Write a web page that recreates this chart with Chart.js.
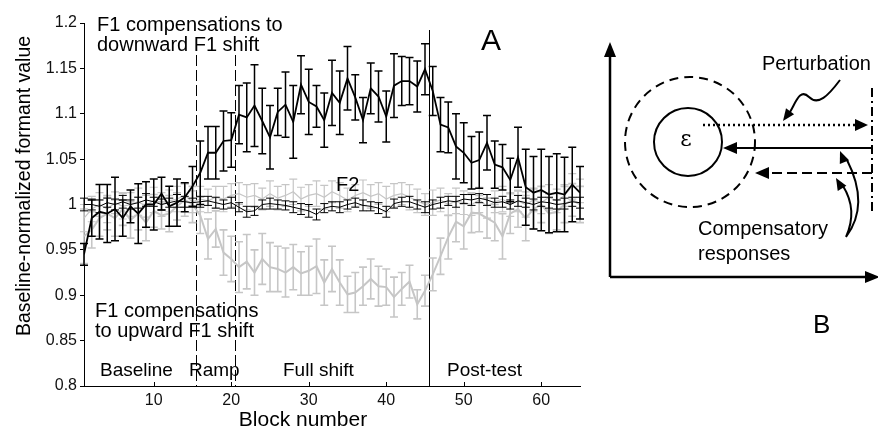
<!DOCTYPE html>
<html>
<head>
<meta charset="utf-8">
<script src="https://cdn.jsdelivr.net/npm/chart.js@4.4.1/dist/chart.umd.min.js"></script>
<style>
  html, body { margin: 0; padding: 0; background: #fff; }
  #wrap { position: relative; width: 878px; height: 432px; }
</style>
</head>
<body>
<div id="wrap"><canvas id="chart" width="878" height="432"></canvas></div>
<script>
// block numbers (x axis)
const blocks = [1, 2, 3, 4, 5, 6, 7, 8, 9, 10, 11, 12, 13, 14, 15, 16, 17, 18, 19, 20,
  21, 22, 23, 24, 25, 26, 27, 28, 29, 30, 31, 32, 33, 34, 35, 36, 37, 38, 39, 40,
  41, 42, 43, 44, 45, 46, 47, 48, 49, 50, 51, 52, 53, 54, 55, 56, 57, 58, 59, 60,
  61, 62, 63, 64, 65];

// F1, downward shift group (black)
const f1Down = [0.945, 0.985, 0.992, 0.990, 0.995, 0.985, 0.998, 0.990, 1.000, 1.000,
  1.012, 0.998, 1.002, 1.008, 1.020, 1.035, 1.057, 1.057, 1.070, 1.071,
  1.099, 1.096, 1.109, 1.092, 1.074, 1.102, 1.110, 1.091, 1.132, 1.113,
  1.108, 1.093, 1.123, 1.112, 1.139, 1.118, 1.093, 1.128, 1.119, 1.097,
  1.131, 1.136, 1.136, 1.130, 1.149, 1.125, 1.088, 1.085, 1.064, 1.057,
  1.046, 1.049, 1.068, 1.044, 1.041, 1.027, 1.052, 1.019, 1.013, 1.016,
  1.011, 1.013, 1.011, 1.022, 1.013];
const f1DownErr = [0.012, 0.020, 0.030, 0.032, 0.035, 0.020, 0.018, 0.033, 0.025, 0.028,
  0.018, 0.022, 0.026, 0.016, 0.022, 0.035, 0.029, 0.029, 0.033, 0.030,
  0.032, 0.038, 0.045, 0.036, 0.035, 0.026, 0.036, 0.040, 0.032, 0.036,
  0.023, 0.030, 0.036, 0.035, 0.035, 0.025, 0.025, 0.028, 0.028, 0.028,
  0.035, 0.027, 0.026, 0.028, 0.028, 0.027, 0.030, 0.028, 0.036, 0.033,
  0.029, 0.031, 0.030, 0.026, 0.025, 0.024, 0.033, 0.042, 0.040, 0.045,
  0.042, 0.043, 0.041, 0.041, 0.029];

// F2, downward shift group (black)
const f2Down = [1.000, 1.000, 0.998, 1.002, 1.000, 1.003, 1.000, 1.002, 1.005, 1.003,
  1.000, 1.002, 1.004, 1.003, 1.002, 1.003, 1.004, 1.002, 1.000, 1.002,
  0.997, 0.992, 0.993, 1.000, 1.001, 1.000, 0.999, 0.997, 0.995, 0.993,
  0.989, 0.996, 0.998, 0.997, 1.000, 1.002, 0.999, 0.998, 0.996, 0.992,
  1.001, 1.003, 1.003, 1.000, 0.997, 1.000, 1.002, 1.004, 1.003, 1.006,
  1.005, 1.007, 1.005, 1.002, 1.003, 1.000, 1.004, 1.002, 1.000, 1.003,
  1.002, 1.000, 1.001, 1.003, 1.002];
const f2DownErr = [0.007, 0.006, 0.007, 0.005, 0.006, 0.007, 0.005, 0.006, 0.007, 0.005,
  0.006, 0.005, 0.007, 0.006, 0.005, 0.006, 0.005, 0.006, 0.005, 0.006,
  0.005, 0.006, 0.005, 0.005, 0.006, 0.005, 0.005, 0.006, 0.006, 0.007,
  0.006, 0.005, 0.005, 0.006, 0.005, 0.005, 0.006, 0.005, 0.006, 0.006,
  0.005, 0.005, 0.006, 0.005, 0.006, 0.005, 0.006, 0.005, 0.006, 0.005,
  0.006, 0.005, 0.006, 0.005, 0.006, 0.005, 0.006, 0.005, 0.006, 0.005,
  0.006, 0.005, 0.006, 0.005, 0.006];

// F1, upward shift group (grey)
const f1Up = [0.965, 0.972, 0.985, 0.990, 0.985, 0.995, 0.983, 0.990, 0.980, 0.993,
  0.988, 0.990, 0.998, 1.005, 1.000, 0.988, 0.962, 0.973, 0.947, 0.940,
  0.931, 0.937, 0.925, 0.940, 0.931, 0.929, 0.925, 0.931, 0.924, 0.927,
  0.932, 0.914, 0.929, 0.914, 0.901, 0.903, 0.910, 0.918, 0.910, 0.909,
  0.898, 0.907, 0.915, 0.890, 0.905, 0.923, 0.943, 0.964, 0.981, 0.976,
  0.991, 0.990, 0.985, 0.980, 0.965, 0.990, 0.995, 0.985, 0.995, 1.000,
  0.990, 0.992, 1.000, 1.005, 1.000];
const f1UpErr = [0.030, 0.020, 0.020, 0.018, 0.020, 0.018, 0.020, 0.018, 0.020, 0.018,
  0.015, 0.020, 0.015, 0.018, 0.020, 0.020, 0.022, 0.020, 0.025, 0.025,
  0.028, 0.030, 0.025, 0.028, 0.027, 0.025, 0.027, 0.025, 0.024, 0.027,
  0.030, 0.025, 0.025, 0.025, 0.020, 0.022, 0.021, 0.022, 0.022, 0.020,
  0.022, 0.018, 0.018, 0.016, 0.017, 0.018, 0.020, 0.024, 0.022, 0.025,
  0.022, 0.020, 0.022, 0.020, 0.025, 0.022, 0.020, 0.025, 0.022, 0.020,
  0.022, 0.020, 0.020, 0.018, 0.020];

// F2, upward shift group (grey)
const f2Up = [0.985, 0.995, 1.000, 0.995, 1.002, 0.998, 1.000, 1.003, 0.998, 1.005,
  1.000, 1.004, 1.006, 1.010, 1.003, 1.006, 1.004, 1.008, 1.006, 1.010,
  1.012, 1.008, 1.010, 1.006, 1.012, 1.007, 1.010, 1.014, 1.006, 1.010,
  1.012, 1.008, 1.014, 1.010, 1.005, 1.010, 1.013, 1.009, 1.012, 1.006,
  1.010, 1.012, 1.008, 1.004, 1.000, 1.002, 1.005, 1.000, 1.004, 1.002,
  1.000, 1.005, 0.998, 1.003, 1.006, 1.000, 1.004, 1.000, 1.005, 1.002,
  1.008, 1.004, 1.010, 1.020, 1.015];
const f2UpErr = [0.015, 0.014, 0.013, 0.015, 0.012, 0.014, 0.013, 0.015, 0.012, 0.014,
  0.013, 0.012, 0.014, 0.013, 0.012, 0.014, 0.013, 0.012, 0.014, 0.013,
  0.012, 0.014, 0.013, 0.012, 0.014, 0.013, 0.012, 0.014, 0.013, 0.012,
  0.014, 0.013, 0.012, 0.014, 0.013, 0.012, 0.014, 0.013, 0.012, 0.014,
  0.013, 0.012, 0.014, 0.013, 0.012, 0.014, 0.013, 0.012, 0.014, 0.013,
  0.012, 0.014, 0.013, 0.012, 0.014, 0.013, 0.012, 0.014, 0.013, 0.012,
  0.014, 0.013, 0.012, 0.014, 0.013];

const xTicks = [10, 20, 30, 40, 50, 60];
const yTicks = [0.8, 0.85, 0.9, 0.95, 1, 1.05, 1.1, 1.15, 1.2];
const phaseLines = [15.5, 20.5, 45.5];
const phaseNames = ['Baseline', 'Ramp', 'Full shift', 'Post-test'];

const BLACK = '#000';
const GREY = 'rgb(198,198,198)';
const FONT = '"Liberation Sans", Arial, Helvetica, sans-serif';

const toPoints = vals => blocks.map((b, i) => ({ x: b, y: vals[i] }));

function series(vals, errs, color, width, errWidth) {
  return {
    data: toPoints(vals),
    errors: errs,
    errWidth: errWidth,
    borderColor: color,
    borderWidth: width,
    pointRadius: 0,
    tension: 0,
    fill: false
  };
}

// error bars drawn right after each line so the stacking follows the datasets
const errorBars = {
  id: 'errorBars',
  afterDatasetDraw(chart, args) {
    const ds = chart.data.datasets[args.index];
    if (!ds.errors) return;
    const { ctx, scales: { x, y } } = chart;
    const cap = 4;
    ctx.save();
    ctx.strokeStyle = ds.borderColor;
    ctx.lineWidth = ds.errWidth;
    ctx.beginPath();
    ds.data.forEach((p, i) => {
      const px = x.getPixelForValue(p.x);
      const top = y.getPixelForValue(p.y + ds.errors[i]);
      const bot = y.getPixelForValue(p.y - ds.errors[i]);
      ctx.moveTo(px, top); ctx.lineTo(px, bot);
      ctx.moveTo(px - cap, top); ctx.lineTo(px + cap, top);
      ctx.moveTo(px - cap, bot); ctx.lineTo(px + cap, bot);
    });
    ctx.stroke();
    ctx.restore();
  }
};

function arrowHead(ctx, tx, ty, ang, len, hw) {
  const c = Math.cos(ang), s = Math.sin(ang);
  const bx = tx - c * len, by = ty - s * len;
  ctx.beginPath();
  ctx.moveTo(tx, ty);
  ctx.lineTo(bx - s * hw, by + c * hw);
  ctx.lineTo(bx + s * hw, by - c * hw);
  ctx.closePath();
  ctx.fill();
}

function drawPanelB(ctx) {
  ctx.save();
  ctx.strokeStyle = '#000';
  ctx.fillStyle = '#000';

  // axes
  ctx.lineWidth = 2.5;
  ctx.beginPath();
  ctx.moveTo(610, 277); ctx.lineTo(610, 55);
  ctx.moveTo(610, 277); ctx.lineTo(868, 277);
  ctx.stroke();
  arrowHead(ctx, 610, 42, -Math.PI / 2, 15, 6);
  arrowHead(ctx, 880, 277, 0, 15, 6);

  // circles
  ctx.lineWidth = 2;
  ctx.setLineDash([9, 6]);
  ctx.beginPath(); ctx.arc(690, 142, 65, 0, Math.PI * 2); ctx.stroke();
  ctx.setLineDash([]);
  ctx.beginPath(); ctx.arc(688, 142, 34, 0, Math.PI * 2); ctx.stroke();
  ctx.font = '22px "DejaVu Serif", serif';
  ctx.textAlign = 'center';
  ctx.textBaseline = 'middle';
  ctx.fillText('\u03B5', 686, 140);

  // perturbation (dotted)
  ctx.lineWidth = 2.5;
  ctx.setLineDash([2, 3]);
  ctx.beginPath(); ctx.moveTo(703, 125); ctx.lineTo(856, 125); ctx.stroke();
  ctx.setLineDash([]);
  arrowHead(ctx, 868, 125, 0, 13, 6);

  // dash-dot boundary
  ctx.lineWidth = 2;
  ctx.setLineDash([9, 4, 2, 4]);
  ctx.beginPath(); ctx.moveTo(872, 88); ctx.lineTo(872, 214); ctx.stroke();

  // full compensation (solid)
  ctx.setLineDash([]);
  ctx.beginPath(); ctx.moveTo(872, 148); ctx.lineTo(736, 148); ctx.stroke();
  arrowHead(ctx, 723, 148, Math.PI, 14, 6);

  // partial compensation (dashed)
  ctx.setLineDash([10, 5]);
  ctx.beginPath(); ctx.moveTo(872, 173); ctx.lineTo(768, 173); ctx.stroke();
  ctx.setLineDash([]);
  arrowHead(ctx, 755, 173, Math.PI, 14, 6);

  // curved pointers
  ctx.lineWidth = 2;
  ctx.beginPath();
  ctx.moveTo(846, 237);
  ctx.quadraticCurveTo(870, 205, 847, 160);
  ctx.moveTo(846, 237);
  ctx.quadraticCurveTo(858, 210, 843, 186);
  ctx.stroke();
  arrowHead(ctx, 840, 151, -1.95, 12, 5);
  arrowHead(ctx, 836, 178, -2.1, 12, 5);

  // wavy pointer
  ctx.beginPath();
  ctx.moveTo(840, 80);
  ctx.bezierCurveTo(828, 96, 818, 106, 809, 97);
  ctx.bezierCurveTo(800, 88, 796, 102, 790, 112);
  ctx.stroke();
  arrowHead(ctx, 783, 121, 2.2, 12, 5);

  ctx.textAlign = 'left';
  ctx.textBaseline = 'alphabetic';
  ctx.font = '20px ' + FONT;
  ctx.fillText('Perturbation', 762, 70);
  ctx.fillText('Compensatory', 698, 235);
  ctx.fillText('responses', 698, 260);
  ctx.font = '26px ' + FONT;
  ctx.fillText('B', 813, 333);
  ctx.restore();
}

const decorations = {
  id: 'decorations',
  beforeDatasetsDraw(chart) {
    const { ctx, scales: { x }, chartArea } = chart;
    ctx.save();
    ctx.strokeStyle = '#000';
    ctx.lineWidth = 1;
    phaseLines.forEach((v, i) => {
      const px = Math.round(x.getPixelForValue(v)) + 0.5;
      ctx.setLineDash(i < 2 ? [11, 4] : []);
      ctx.beginPath();
      ctx.moveTo(px, i < 2 ? 55 : 30);
      ctx.lineTo(px, chartArea.bottom);
      ctx.stroke();
    });
    ctx.restore();
  },
  afterDraw(chart) {
    const { ctx, scales: { x }, chartArea } = chart;
    ctx.save();
    // inward x ticks
    ctx.strokeStyle = '#000';
    ctx.lineWidth = 1;
    ctx.beginPath();
    xTicks.forEach(v => {
      const px = Math.round(x.getPixelForValue(v)) + 0.5;
      ctx.moveTo(px, chartArea.bottom);
      ctx.lineTo(px, chartArea.bottom - 4);
    });
    ctx.stroke();

    ctx.fillStyle = '#000';
    ctx.textBaseline = 'alphabetic';
    ctx.textAlign = 'left';
    ctx.font = '20px ' + FONT;
    ctx.fillText('F1 compensations to', 97, 31);
    ctx.fillText('downward F1 shift', 97, 51);
    ctx.fillText('F1 compensations', 95, 317);
    ctx.fillText('to upward F1 shift', 95, 337);
    ctx.fillText('F2', 336, 191);

    ctx.font = '19px ' + FONT;
    ctx.fillText(phaseNames[0], 100, 376);
    ctx.fillText(phaseNames[1], 189, 376);
    ctx.fillText(phaseNames[2], 283, 376);
    ctx.fillText(phaseNames[3], 447, 376);

    ctx.font = '30px ' + FONT;
    ctx.fillText('A', 481, 50);

    // axis titles
    ctx.textAlign = 'center';
    ctx.font = '21px ' + FONT;
    ctx.fillText('Block number', 303, 426);
    ctx.save();
    ctx.translate(30, 186);
    ctx.rotate(-Math.PI / 2);
    ctx.font = '19.5px ' + FONT;
    ctx.fillText('Baseline-normalized formant value', 0, 0);
    ctx.restore();

    drawPanelB(ctx);
    ctx.restore();
  }
};

new Chart(document.getElementById('chart'), {
  type: 'line',
  data: {
    datasets: [
      series(f1Down, f1DownErr, BLACK, 1.8, 1.5),
      series(f2Down, f2DownErr, BLACK, 1, 1),
      series(f2Up, f2UpErr, GREY, 1.2, 1.2),
      series(f1Up, f1UpErr, GREY, 2, 1.6)
    ]
  },
  options: {
    responsive: false,
    animation: false,
    devicePixelRatio: 1,
    layout: { padding: { top: 23, right: 298, left: 0, bottom: 0 } },
    plugins: { legend: { display: false }, tooltip: { enabled: false } },
    scales: {
      x: {
        type: 'linear',
        min: 1,
        max: 65,
        afterFit: s => { s.height = 46; },
        afterBuildTicks: s => { s.ticks = xTicks.map(v => ({ value: v })); },
        grid: { drawOnChartArea: false, drawTicks: false },
        border: { color: '#000', width: 1 },
        ticks: { color: '#111', padding: 5, maxRotation: 0, font: { family: FONT, size: 16 } }
      },
      y: {
        min: 0.8,
        max: 1.2,
        afterFit: s => { s.width = 84; },
        afterBuildTicks: s => { s.ticks = yTicks.map(v => ({ value: v })); },
        grid: { drawOnChartArea: false, tickLength: 4, color: '#000' },
        border: { color: '#000', width: 1 },
        ticks: {
          color: '#111',
          padding: 3,
          font: { family: FONT, size: 16 },
          callback: v => String(parseFloat(Number(v).toFixed(2)))
        }
      }
    }
  },
  plugins: [errorBars, decorations]
});
</script>
</body>
</html>
